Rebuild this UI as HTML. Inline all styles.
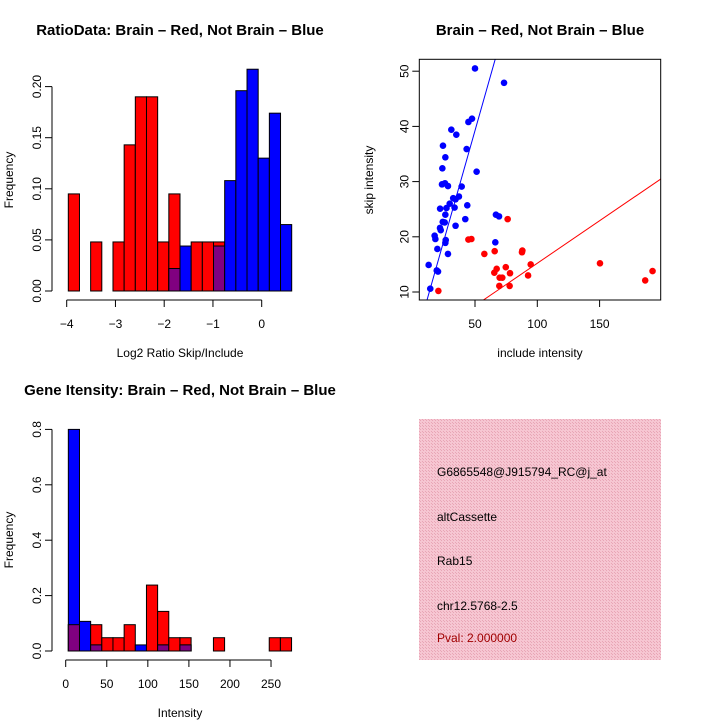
<!DOCTYPE html>
<html><head><meta charset="utf-8"><style>
body{margin:0;background:#fff}
svg{display:block;font-family:"Liberation Sans",sans-serif}
</style></head><body>
<svg id="chart" width="720" height="720" viewBox="0 0 720 720">
<rect width="720" height="720" fill="#fff"/>
<text x="180" y="35" font-size="15" font-weight="bold" text-anchor="middle">RatioData: Brain – Red, Not Brain – Blue</text>
<text x="540" y="35" font-size="15" font-weight="bold" text-anchor="middle">Brain – Red, Not Brain – Blue</text>
<text x="180" y="395" font-size="15" font-weight="bold" text-anchor="middle">Gene Itensity: Brain – Red, Not Brain – Blue</text>
<text x="180" y="357" font-size="12" text-anchor="middle">Log2 Ratio Skip/Include</text>
<text transform="translate(13,180) rotate(-90)" font-size="12" text-anchor="middle">Frequency</text>
<text x="540" y="357" font-size="12" text-anchor="middle">include intensity</text>
<text transform="translate(373,180) rotate(-90)" font-size="12" text-anchor="middle">skip intensity</text>
<text x="180" y="717" font-size="12" text-anchor="middle">Intensity</text>
<text transform="translate(13,540) rotate(-90)" font-size="12" text-anchor="middle">Frequency</text>
<defs><pattern id="hatch" width="3" height="3" patternUnits="userSpaceOnUse"><rect width="3" height="3" fill="#f6c6d2"/><rect width="1" height="1" fill="#e8a6b6"/><rect x="2" y="2" width="1" height="1" fill="#e8a6b6"/></pattern></defs>
<g>
<rect x="419" y="419" width="242" height="241" fill="url(#hatch)"/>
<text x="437" y="476" font-size="12">G6865548@J915794_RC@j_at</text>
<text x="437" y="521" font-size="12">altCassette</text>
<text x="437" y="565" font-size="12">Rab15</text>
<text x="437" y="610" font-size="12">chr12.5768-2.5</text>
<text x="437" y="642" font-size="12" fill="#a00000">Pval: 2.000000</text>
</g>
<g id="g1"></g><g id="g2"></g><g id="g3"></g>
</svg>
<script>
const ratioRed=[0.095,0,0.048,0,0.048,0.143,0.19,0.19,0.048,0.095,0,0.048,0.048,0.048,0,0,0,0,0,0];
const ratioBlue=[0,0,0,0,0,0,0,0,0,0.022,0.044,0,0,0.044,0.108,0.196,0.217,0.13,0.174,0.065];
const ratioTicksX=[-4,-3,-2,-1,0];
const ratioTicksY=[0,0.05,0.10,0.15,0.20];
const ratioTickLabelsY=["0.00","0.05","0.10","0.15","0.20"];
const intRed=[0.095,0,0.095,0.048,0.048,0.095,0,0.238,0.143,0.048,0.048,0,0,0.048,0,0,0,0,0.048,0.048];
const intBlue=[0.8,0.107,0.022,0,0,0,0.022,0,0.022,0,0.022,0,0,0,0,0,0,0,0,0];
const intTicksX=[0,50,100,150,200,250];
const intTicksY=[0,0.2,0.4,0.6,0.8];
const intTickLabelsY=["0.0","0.2","0.4","0.6","0.8"];
const blueX=[50,73.3,47.6,44.7,31,35,24.3,43.3,26.2,23.8,51.3,23.5,25.9,28.3,39.3,32.5,37.1,34.4,29.7,27.1,22,33.6,43.8,26.2,66.8,69.3,42.2,24.1,25.7,21.9,22.5,34.4,17.6,18.2,26.5,26.2,66.3,19.8,28.3,12.8,19.3,20.3,14.1];
const blueY=[50.5,47.9,41.4,40.8,39.4,38.5,36.5,35.9,34.4,32.4,31.8,29.5,29.7,29.2,29.1,27,27.3,26.8,26,25.2,25.1,25.3,25.7,24,24,23.7,23.2,22.7,22.6,21.6,21.2,22,20.2,19.6,19.4,18.9,19,17.8,16.9,14.9,13.9,13.7,10.6];
const redX=[76.2,44.7,47.1,57.5,65.8,88,87.7,94.7,74.7,67.4,65.5,78.1,69.8,71.9,92.6,69.5,77.8,150.3,186.6,192.5,20.6];
const redY=[23.2,19.5,19.6,16.9,17.4,17.5,17.2,15,14.5,14.2,13.5,13.4,12.6,12.6,13,11.1,11.1,15.2,12.1,13.8,10.2];
const blueFit=[-0.61,0.797];
const redFit=[-0.19,0.154];
const scatterTicksX=[50,100,150];
const scatterTicksY=[10,20,30,40,50];

const NS="http://www.w3.org/2000/svg";
function mk(p,tag,a){const e=document.createElementNS(NS,tag);for(const k in a)e.setAttribute(k,a[k]);p.appendChild(e);return e;}

function hist(g,red,blue,xs,ys,binStart,binW,ticksX,ticksY,labY,yAxisX,xAxisY,nm){
  for(let i=0;i<red.length;i++){
    const x0=xs(binStart+i*binW),x1=xs(binStart+(i+1)*binW);
    const draw=(v,col,n)=>{if(v<=0)return;const r=mk(g,'rect',{x:x0,y:ys(v),width:x1-x0,height:ys(0)-ys(v),fill:col,stroke:'#000','stroke-width':1});
      
      };
    draw(red[i],'#ff0000','red');draw(blue[i],'#0000ff','blue');
    if(red[i]>0&&blue[i]>0)draw(Math.min(red[i],blue[i]),'#800080','overlap');
  }
  const ax=mk(g,'line',{x1:yAxisX,x2:yAxisX,y1:ys(ticksY[0]),y2:ys(ticksY[ticksY.length-1]),stroke:'#000'});
  
  
  ticksY.forEach((t,i)=>{mk(g,'line',{x1:yAxisX-7,x2:yAxisX,y1:ys(t),y2:ys(t),stroke:'#000'});
    const tx=mk(g,'text',{transform:`translate(${yAxisX-11},${ys(t)}) rotate(-90)`,'font-size':12,'text-anchor':'middle'});tx.textContent=labY[i];
    
    });
  const bx=mk(g,'line',{x1:xs(ticksX[0]),x2:xs(ticksX[ticksX.length-1]),y1:xAxisY,y2:xAxisY,stroke:'#000'});
  
  
  ticksX.forEach(t=>{mk(g,'line',{x1:xs(t),x2:xs(t),y1:xAxisY,y2:xAxisY+7,stroke:'#000'});
    const tx=mk(g,'text',{x:xs(t),y:xAxisY+28,'font-size':12,'text-anchor':'middle'});tx.textContent=t<0?'\u2212'+(-t):String(t);
    
    });
}
const xs1=v=>261.7+v*48.75, ys1=v=>291-v*1022;
hist(document.getElementById('g1'),ratioRed,ratioBlue,xs1,ys1,(68.3-261.7)/48.75,(223.4/20)/48.75,ratioTicksX,ratioTicksY,ratioTickLabelsY,52,300,'ratio');
const xs3=v=>65.7+v*0.8213, ys3=v=>651-v*277;
hist(document.getElementById('g3'),intRed,intBlue,xs3,ys3,3.2,13.59,intTicksX,intTicksY,intTickLabelsY,52,660,'intensity');
const g2=document.getElementById('g2');
const xs2=v=>412.7+v*1.246, ys2=v=>292-(v-10)*5.52;
const L=419.3,R=660.7,T=59.3,B=300;
mk(g2,'clipPath',{id:'cp'}).appendChild(document.createElementNS(NS,'rect'));
const cr=document.querySelector('#cp rect');cr.setAttribute('x',L);cr.setAttribute('y',T);cr.setAttribute('width',R-L);cr.setAttribute('height',B-T);
blueX.forEach((x,i)=>{const c=mk(g2,'circle',{cx:xs2(x),cy:ys2(blueY[i]),r:3.3,fill:'#0000ff'});
  
  });
redX.forEach((x,i)=>{const c=mk(g2,'circle',{cx:xs2(x),cy:ys2(redY[i]),r:3.3,fill:'#ff0000'});
  
  });
[[blueFit,'#0000ff','blue-fit-line'],[redFit,'#ff0000','red-fit-line']].forEach(([f,col,n])=>{
  const x0=0,x1=220;const l=mk(g2,'line',{x1:xs2(x0),y1:ys2(f[0]+f[1]*x0),x2:xs2(x1),y2:ys2(f[0]+f[1]*x1),stroke:col,'stroke-width':1,'clip-path':'url(#cp)'});
  
  });
const box=mk(g2,'rect',{x:L,y:T,width:R-L,height:B-T,fill:'none',stroke:'#000'});


scatterTicksX.forEach(t=>{mk(g2,'line',{x1:xs2(t),x2:xs2(t),y1:B,y2:B+7,stroke:'#000'});
  const tx=mk(g2,'text',{x:xs2(t),y:B+28,'font-size':12,'text-anchor':'middle'});tx.textContent=t;
  
  });
scatterTicksY.forEach(t=>{mk(g2,'line',{x1:L-7,x2:L,y1:ys2(t),y2:ys2(t),stroke:'#000'});
  const tx=mk(g2,'text',{transform:`translate(${L-11},${ys2(t)}) rotate(-90)`,'font-size':12,'text-anchor':'middle'});tx.textContent=t;
  
  });
</script>
</body></html>
